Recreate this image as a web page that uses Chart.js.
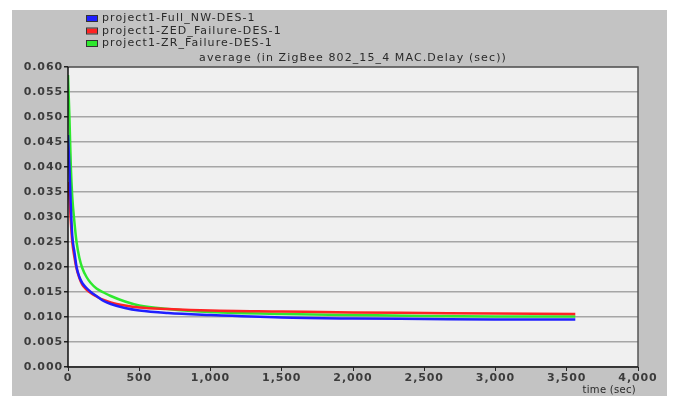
<!DOCTYPE html>
<html lang="en">
<head>
  <meta charset="UTF-8">
  <title>ZigBee MAC Delay</title>
  <script src="https://cdn.jsdelivr.net/npm/chart.js"></script>
  <style>
    html, body { margin: 0; padding: 0; background: #fff; }
    #wrap { width: 674px; height: 401px; position: relative; }
  </style>
</head>
<body>
<div id="wrap"><canvas id="chart" width="674" height="401"></canvas></div>
<script>
  // simulation time (sec) and average MAC delay (sec) per scenario
  const times = [0, 10, 20, 30, 45, 60, 80, 100, 130, 160, 200, 250, 300, 400, 500, 700, 1000, 1500, 2000, 2500, 3000, 3560];
  const fullNw = [0.0464, 0.0400, 0.0320, 0.0262, 0.0230, 0.0200, 0.0180, 0.0168, 0.0158, 0.0150, 0.0142, 0.0132, 0.0126, 0.0118, 0.0113, 0.0108, 0.0104, 0.0099, 0.0097, 0.0096, 0.0095, 0.0095];
  const zedFailure = [0.0370, 0.0340, 0.0290, 0.0250, 0.0220, 0.0197, 0.0178, 0.0165, 0.0155, 0.0148, 0.0141, 0.0134, 0.0129, 0.0123, 0.0119, 0.0116, 0.0113, 0.0111, 0.0109, 0.0108, 0.0107, 0.0106];
  const zrFailure = [0.0584, 0.0500, 0.0400, 0.0340, 0.0290, 0.0250, 0.0218, 0.0198, 0.0180, 0.0168, 0.0157, 0.0149, 0.0142, 0.0131, 0.0123, 0.0116, 0.0110, 0.0106, 0.0104, 0.0102, 0.0101, 0.0101];

  const seriesNames = ['project1-Full_NW-DES-1', 'project1-ZED_Failure-DES-1', 'project1-ZR_Failure-DES-1'];
  const chartTitle = 'average (in ZigBee 802_15_4 MAC.Delay (sec))';
  const xAxisTitle = 'time (sec)';

  const FONT = '"DejaVu Sans", Verdana, sans-serif';
  const toPoints = vals => vals.map((v, i) => ({ x: times[i], y: v }));

  // gray panel, plot background, frame, legend and title (OPNET look)
  const panel = {
    id: 'panel',
    beforeDraw(chart) {
      const { ctx, chartArea: a } = chart;
      ctx.save();
      ctx.fillStyle = '#fff';
      ctx.fillRect(0, 0, chart.width, chart.height);
      ctx.fillStyle = '#c3c3c3';
      ctx.fillRect(12, 10, 655, 386);
      ctx.fillStyle = '#f0f0f0';
      ctx.fillRect(a.left, a.top, a.right - a.left, a.bottom - a.top);
      ctx.restore();
      // wide old-style lettering for tick labels
      ctx.letterSpacing = '0.9px';
    },
    afterDraw(chart) {
      const { ctx, chartArea: a } = chart;
      ctx.save();
      ctx.letterSpacing = '0px';
      ctx.strokeStyle = '#555';
      ctx.lineWidth = 1.5;
      ctx.beginPath();
      ctx.moveTo(a.left, a.top);
      ctx.lineTo(a.right, a.top);
      ctx.lineTo(a.right, a.bottom);
      ctx.stroke();
      ctx.strokeStyle = '#111';
      ctx.beginPath();
      ctx.moveTo(a.left, a.top);
      ctx.lineTo(a.left, a.bottom);
      ctx.lineTo(a.right, a.bottom);
      ctx.stroke();

      ctx.letterSpacing = '1.1px';
      ctx.font = '11px ' + FONT;
      ctx.textBaseline = 'middle';
      chart.data.datasets.forEach((ds, i) => {
        const y = 18.5 + i * 12.5;
        ctx.fillStyle = ds.borderColor;
        ctx.fillRect(87, y - 2.5, 10, 5);
        ctx.strokeStyle = '#333';
        ctx.lineWidth = 1;
        ctx.strokeRect(86.5, y - 3, 11, 6);
        ctx.fillStyle = '#2a2a2a';
        ctx.textAlign = 'left';
        ctx.fillText(ds.label, 102, y);
      });

      ctx.textAlign = 'center';
      ctx.fillText(chartTitle, (a.left + a.right) / 2, 58);
      ctx.letterSpacing = '0.3px';
      ctx.font = '10px ' + FONT;
      ctx.textAlign = 'right';
      ctx.fillText(xAxisTitle, 636, 390);
      ctx.restore();
      ctx.letterSpacing = '0px';
    }
  };

  new Chart(document.getElementById('chart'), {
    type: 'line',
    data: {
      datasets: [
        { label: seriesNames[0], data: toPoints(fullNw), borderColor: '#1f1fff' },
        { label: seriesNames[1], data: toPoints(zedFailure), borderColor: '#ff2323' },
        { label: seriesNames[2], data: toPoints(zrFailure), borderColor: '#2ee82e' }
      ].map(d => Object.assign(d, { borderWidth: 2.5, pointRadius: 0, fill: false, cubicInterpolationMode: 'monotone' }))
    },
    options: {
      responsive: false,
      animation: false,
      layout: { padding: { left: 0, right: 36, top: 67, bottom: 0 } },
      plugins: { legend: { display: false }, title: { display: false }, tooltip: { enabled: false } },
      scales: {
        x: {
          type: 'linear', min: 0, max: 4000,
          grid: { drawOnChartArea: false, color: '#222', tickLength: 4 },
          border: { display: false },
          ticks: {
            stepSize: 500, padding: 1, color: '#3c3c3c', maxRotation: 0,
            font: { size: 11, family: FONT, weight: 'bold' },
            callback: v => v.toLocaleString('en-US')
          },
          afterFit: s => { s.height = 34; }
        },
        y: {
          min: 0, max: 0.06,
          grid: { color: '#a6a6a6', lineWidth: 1.5, tickColor: '#222', tickLength: 4 },
          border: { display: false },
          ticks: {
            stepSize: 0.005, padding: 1, color: '#3c3c3c',
            font: { size: 11, family: FONT, weight: 'bold' },
            callback: v => v.toFixed(3)
          },
          afterFit: s => { s.width = 68; }
        }
      }
    },
    plugins: [panel]
  });
</script>
</body>
</html>
